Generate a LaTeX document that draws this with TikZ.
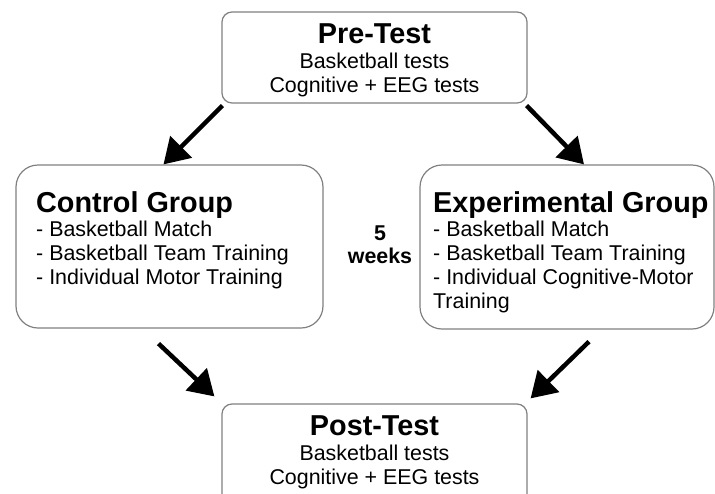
\documentclass[tikz,border=0pt]{standalone}
\usepackage{fontspec}
\setmainfont{Liberation Sans}
\usetikzlibrary{arrows.meta}

\tikzset{
  testbox/.style={draw=black!50, line width=1.2pt, rounded corners=10pt,
    minimum width=305pt, minimum height=91pt, inner sep=0pt},
  groupbox/.style={draw=black!50, line width=1.2pt, rounded corners=22pt, inner sep=0pt},
  flow/.style={line width=4.5pt, -{Triangle[length=25pt,width=30pt]}},
  headtxt/.style={font=\fontsize{28.8}{30}\selectfont\bfseries, inner sep=0pt},
  bodytxt/.style={font=\fontsize{21.4}{24}\selectfont, inner sep=0pt},
}

\begin{document}
\begin{tikzpicture}[x=1pt,y=-1pt]
	\useasboundingbox (0,0) rectangle (715,493);
	\clip (0,0) rectangle (715,493);
	% boxes
	\node[testbox] (pre) at (374.5,57.5) {};
	\node[groupbox, minimum width=307pt, minimum height=163pt] (ctrl) at (169.5,246.5) {};
	\node[groupbox, minimum width=294pt, minimum height=164pt] (exp) at (567,247) {};
	\node[testbox, minimum height=120pt] (post) at (374.5,464) {};

	% pre-test
	\node[headtxt, anchor=base] (pretitle) at (374.5,43) {Pre-Test};
	\node[bodytxt, anchor=base] (pre1) at (374.5,68) {Basketball tests};
	\node[bodytxt, anchor=base] (pre2) at (374.5,92) {Cognitive + EEG tests};

	% control group
	\node[headtxt, anchor=base west] (ctrltitle) at (36,212) {Control Group};
	\node[bodytxt, anchor=base west] (ctrl1) at (36,236) {- Basketball Match};
	\node[bodytxt, anchor=base west] (ctrl2) at (36,260) {- Basketball Team Training};
	\node[bodytxt, anchor=base west] (ctrl3) at (36,284) {- Individual Motor Training};

	% experimental group
	\node[headtxt, anchor=base west] (exptitle) at (433,212) {Experimental Group};
	\node[bodytxt, anchor=base west] (exp1) at (433,236) {- Basketball Match};
	\node[bodytxt, anchor=base west] (exp2) at (433,260) {- Basketball Team Training};
	\node[bodytxt, anchor=base west] (exp3) at (433,284) {- Individual Cognitive-Motor};
	\node[bodytxt, anchor=base west] (exp4) at (433,308) {Training};

	% duration
	\node[bodytxt, font=\fontsize{21.4}{24}\selectfont\bfseries, anchor=base] (five) at (380,240) {5};
	\node[bodytxt, font=\fontsize{21.4}{24}\selectfont\bfseries, anchor=base] (weeks) at (380,263) {weeks};

	% post-test
	\node[headtxt, anchor=base] (posttitle) at (374.5,435) {Post-Test};
	\node[bodytxt, anchor=base] (post1) at (374.5,460) {Basketball tests};
	\node[bodytxt, anchor=base] (post2) at (374.5,484) {Cognitive + EEG tests};

	% arrows
	\draw[flow] ([shift={(1pt,-2pt)}]pre.south west) -- ([xshift=-6pt]ctrl.north);
	\draw[flow] ([shift={(-1pt,-2pt)}]pre.south east) -- ([xshift=17pt]exp.north);
	\draw[flow] ([shift={(-11pt,-15pt)}]ctrl.south) -- ([shift={(-7pt,7pt)}]post.north west);
	\draw[flow] ([shift={(22pt,-12pt)}]exp.south) -- ([shift={(3pt,5pt)}]post.north east);
\end{tikzpicture}
\end{document}
